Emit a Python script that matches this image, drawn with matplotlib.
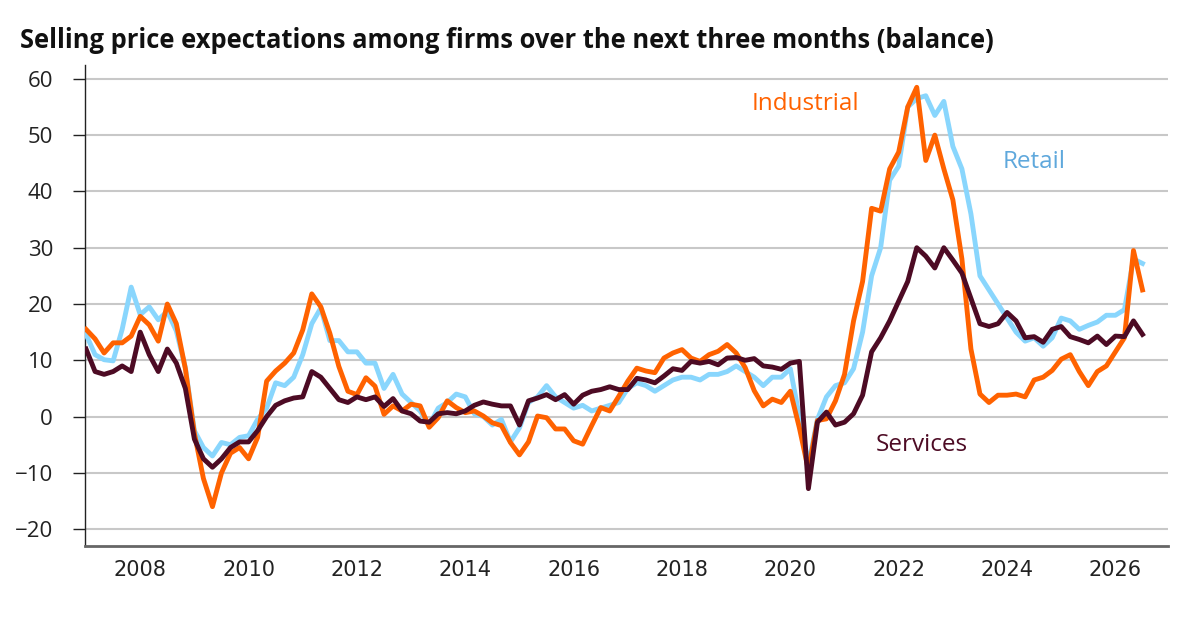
import numpy as np
import matplotlib
matplotlib.use("Agg")
import matplotlib.pyplot as plt

START_YEAR = 2007.0
STEP = 1 / 6  # bimonthly readings

industrial = [
    15.5, 13.8, 11.3, 13.1, 13.1, 14.3,
    17.8, 16.3, 13.4, 20.0, 16.5, 8.5,
    -3.0, -11.0, -16.0, -10.0, -6.5, -5.5,
    -7.5, -3.7, 6.3, 8.1, 9.5, 11.3,
    15.4, 21.8, 19.5, 14.8, 8.9, 4.5,
    3.9, 6.9, 5.4, 0.4, 1.9, 1.0,
    2.2, 1.9, -1.9, -0.2, 2.8, 1.6,
    0.7, 1.0, 0.1, -1.1, -1.6, -4.6,
    -6.8, -4.5, 0.1, -0.2, -2.2, -2.2,
    -4.3, -4.9, -1.6, 1.6, 1.0, 3.6,
    6.3, 8.6, 8.1, 7.8, 10.4, 11.3,
    11.9, 10.4, 9.8, 11.0, 11.6, 12.8,
    11.3, 8.7, 4.6, 1.9, 3.1, 2.5,
    4.5, -2.0, -9.5, -0.7, -0.4, 2.8,
    7.5, 17.0, 24.0, 37.0, 36.5, 44.0,
    47.0, 55.0, 58.5, 45.5, 50.0, 44.0,
    38.5, 28.0, 12.0, 4.0, 2.5, 3.8,
    3.8, 4.0, 3.5, 6.5, 7.0, 8.2,
    10.2, 11.0, 8.0, 5.5, 8.0, 9.0,
    11.5, 14.0, 29.5, 22.5,
]

retail = [
    14.6, 11.0, 10.1, 9.9, 15.5, 23.0,
    18.1, 19.5, 17.2, 18.7, 15.2, 8.7,
    -2.5, -5.5, -7.0, -4.6, -5.0, -3.7,
    -3.4, -0.5, 1.5, 6.0, 5.5, 7.0,
    11.0, 16.5, 19.3, 13.5, 13.5, 11.5,
    11.5, 9.5, 9.5, 5.0, 7.5, 4.0,
    2.5, 1.0, -1.5, 1.5, 2.5, 4.0,
    3.5, 0.5, 0.0, -1.5, -0.5, -4.5,
    -2.0, 2.5, 3.5, 5.5, 3.5, 2.5,
    1.5, 2.0, 1.0, 1.5, 2.0, 2.5,
    5.0, 6.0, 5.5, 4.5, 5.5, 6.5,
    7.0, 7.0, 6.5, 7.5, 7.5, 8.0,
    9.0, 8.0, 7.0, 5.5, 7.0, 7.0,
    8.5, 0.0, -8.5, -0.5, 3.5, 5.5,
    6.0, 8.5, 15.0, 25.0, 30.0, 42.0,
    44.5, 55.0, 56.5, 57.0, 53.5, 56.0,
    48.0, 44.0, 36.0, 25.0, 22.5, 20.0,
    17.5, 15.0, 13.4, 14.0, 12.5, 14.0,
    17.5, 17.0, 15.5, 16.2, 16.8, 18.0,
    18.0, 19.0, 28.0, 27.2,
]

services = [
    12.0, 8.0, 7.5, 8.0, 9.0, 8.0,
    15.0, 11.0, 8.0, 12.0, 9.5, 5.0,
    -4.0, -7.5, -9.0, -7.5, -5.5, -4.5,
    -4.5, -2.5, 0.0, 2.0, 2.8, 3.3,
    3.5, 8.0, 7.0, 5.0, 3.0, 2.5,
    3.5, 3.0, 3.5, 1.8, 3.2, 1.0,
    0.5, -0.8, -1.0, 0.5, 0.7, 0.5,
    1.0, 2.0, 2.6, 2.2, 1.9, 1.9,
    -1.5, 2.8, 3.3, 3.9, 3.0, 3.9,
    2.2, 3.8, 4.5, 4.8, 5.3, 4.8,
    4.8, 6.8, 6.5, 6.0, 7.2, 8.5,
    8.2, 9.8, 9.5, 9.8, 9.2, 10.4,
    10.5, 10.0, 10.3, 9.0, 8.8, 8.4,
    9.5, 9.8, -12.8, -1.0, 0.8, -1.5,
    -1.0, 0.5, 3.8, 11.5, 14.0, 17.0,
    20.5, 24.0, 30.0, 28.5, 26.4, 30.0,
    27.8, 25.5, 21.0, 16.5, 16.0, 16.5,
    18.5, 17.0, 14.0, 14.2, 13.2, 15.5,
    16.0, 14.2, 13.7, 13.1, 14.3, 12.8,
    14.3, 14.2, 17.0, 14.6,
]

year_ticks = [2008, 2010, 2012, 2014, 2016, 2018, 2020, 2022, 2024, 2026]
value_ticks = [-20, -10, 0, 10, 20, 30, 40, 50, 60]

ORANGE = "#FF6200"
BLUE = "#89D6FD"
MAROON = "#4D0B24"


def main() -> None:
    t = START_YEAR + STEP * np.arange(len(industrial))

    fig = plt.figure(figsize=(12, 6.17), dpi=100)
    ax = fig.add_axes([0.0708, 0.115, 0.9025, 0.78])

    ax.plot(t, retail, color=BLUE, lw=3.5, solid_joinstyle="round", zorder=3)
    ax.plot(t, industrial, color=ORANGE, lw=3.5, solid_joinstyle="round", zorder=3)
    ax.plot(t, services, color=MAROON, lw=3.5, solid_joinstyle="round", zorder=4)

    ax.set_xlim(2006.98, 2026.97)
    ax.set_ylim(-23, 62.5)
    ax.set_yticks(value_ticks)
    ax.set_xticks(year_ticks)
    ax.grid(axis="y", color="#C8C8C8", lw=1.5)
    ax.set_axisbelow(True)

    for side in ("top", "right"):
        ax.spines[side].set_visible(False)
    ax.spines["left"].set_color("#222222")
    ax.spines["left"].set_linewidth(1.0)
    ax.spines["bottom"].set_color("#666666")
    ax.spines["bottom"].set_linewidth(2.0)

    ax.tick_params(axis="y", length=9, width=1.0, color="#222222", labelsize=16,
                   labelcolor="#222222", pad=14)
    ax.tick_params(axis="x", length=0, labelsize=15, labelcolor="#222222", pad=10)
    for lab in ax.get_yticklabels():
        lab.set_fontfamily("Open Sans")
    for lab in ax.get_xticklabels():
        lab.set_fontfamily(["Liberation Sans Narrow", "DejaVu Sans"])

    ax.text(2019.29, 55.5, "Industrial", color=ORANGE, fontsize=17.5,
            family="Open Sans", va="center", ha="left")
    ax.text(2023.92, 45.2, "Retail", color="#5FA8DC", fontsize=17.5,
            family="Open Sans", va="center", ha="left")
    ax.text(2021.58, -5.1, "Services", color=MAROON, fontsize=17.5,
            family="Open Sans", va="center", ha="left")

    fig.text(0.017, 0.935, "Selling price expectations among firms over the next three months (balance)",
             fontsize=18.4, fontweight="bold", family="Open Sans", color="#111111",
             ha="left", va="center")

    fig.savefig("out.png", dpi=100)


if __name__ == "__main__":
    main()
